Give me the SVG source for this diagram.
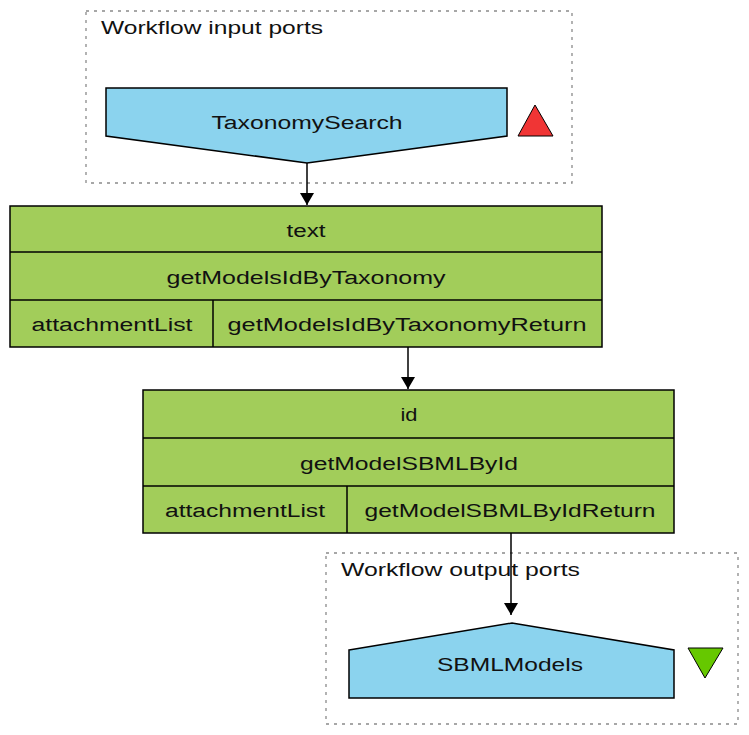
<svg xmlns="http://www.w3.org/2000/svg" width="749" height="735" viewBox="0 0 749 735">
<style>
.cluster{fill:none;stroke:#8a8a8a;stroke-width:1.3;stroke-dasharray:3 5}
.port{fill:#8bd3ee;stroke:#000;stroke-width:1.5}
.proc{fill:#a2cd5a;stroke:#000;stroke-width:1.5}
.sep{stroke:#000;stroke-width:1.5}
.t{font-family:"Liberation Sans",Arial,sans-serif;font-size:18px;fill:#111}
.c{text-anchor:middle}
.edge{stroke:#000;stroke-width:1.5;fill:none}
</style>
<defs>
<marker id="arr" markerUnits="userSpaceOnUse" viewBox="0 0 12 14" refX="12" refY="7" markerWidth="12" markerHeight="14" orient="auto">
<path d="M0,0 L12,7 L0,14 Z" fill="#000"/>
</marker>
</defs>
<g id="cluster_inputs">
<rect class="cluster" x="86" y="11" width="486" height="172"/>
<text class="t" x="101" y="34" textLength="222" lengthAdjust="spacingAndGlyphs">Workflow input ports</text>
</g>
<g id="cluster_outputs">
<rect class="cluster" x="326" y="553" width="412" height="171"/>
<text class="t" x="341" y="576" textLength="239" lengthAdjust="spacingAndGlyphs">Workflow output ports</text>
</g>
<g id="TaxonomySearch">
<polygon class="port" points="106,88 507,88 507,136 307,163 106,136"/>
<text class="t c" x="307" y="129" textLength="191" lengthAdjust="spacingAndGlyphs">TaxonomySearch</text>
<polygon points="535,105 518,136 553,136" fill="#f03535" stroke="#000" stroke-width="1"/>
</g>
<g id="getModelsIdByTaxonomy">
<rect class="proc" x="10" y="206" width="592" height="141"/>
<line class="sep" x1="10" y1="252" x2="602" y2="252"/>
<line class="sep" x1="10" y1="300" x2="602" y2="300"/>
<line class="sep" x1="213" y1="300" x2="213" y2="347"/>
<text class="t c" x="306" y="237" textLength="39" lengthAdjust="spacingAndGlyphs">text</text>
<text class="t c" x="306" y="284" textLength="279" lengthAdjust="spacingAndGlyphs">getModelsIdByTaxonomy</text>
<text class="t c" x="112" y="331" textLength="161" lengthAdjust="spacingAndGlyphs">attachmentList</text>
<text class="t c" x="407" y="331" textLength="359" lengthAdjust="spacingAndGlyphs">getModelsIdByTaxonomyReturn</text>
</g>
<g id="getModelSBMLById">
<rect class="proc" x="143" y="390" width="531" height="143"/>
<line class="sep" x1="143" y1="438" x2="674" y2="438"/>
<line class="sep" x1="143" y1="486" x2="674" y2="486"/>
<line class="sep" x1="347" y1="486" x2="347" y2="533"/>
<text class="t c" x="409" y="421" textLength="17" lengthAdjust="spacingAndGlyphs">id</text>
<text class="t c" x="409" y="470" textLength="218" lengthAdjust="spacingAndGlyphs">getModelSBMLById</text>
<text class="t c" x="245" y="517" textLength="160" lengthAdjust="spacingAndGlyphs">attachmentList</text>
<text class="t c" x="510" y="517" textLength="291" lengthAdjust="spacingAndGlyphs">getModelSBMLByIdReturn</text>
</g>
<g id="SBMLModels">
<polygon class="port" points="349,650 512,623 674,650 674,698 349,698"/>
<text class="t c" x="510" y="671" textLength="146" lengthAdjust="spacingAndGlyphs">SBMLModels</text>
<polygon points="688,648 723,648 705,678" fill="#66c800" stroke="#000" stroke-width="1"/>
</g>
<g id="connectors">
<line class="edge" x1="307" y1="163" x2="307" y2="205" marker-end="url(#arr)"/>
<line class="edge" x1="408" y1="347" x2="408" y2="389" marker-end="url(#arr)"/>
<line class="edge" x1="511" y1="533" x2="511" y2="615" marker-end="url(#arr)"/>
</g>
</svg>
